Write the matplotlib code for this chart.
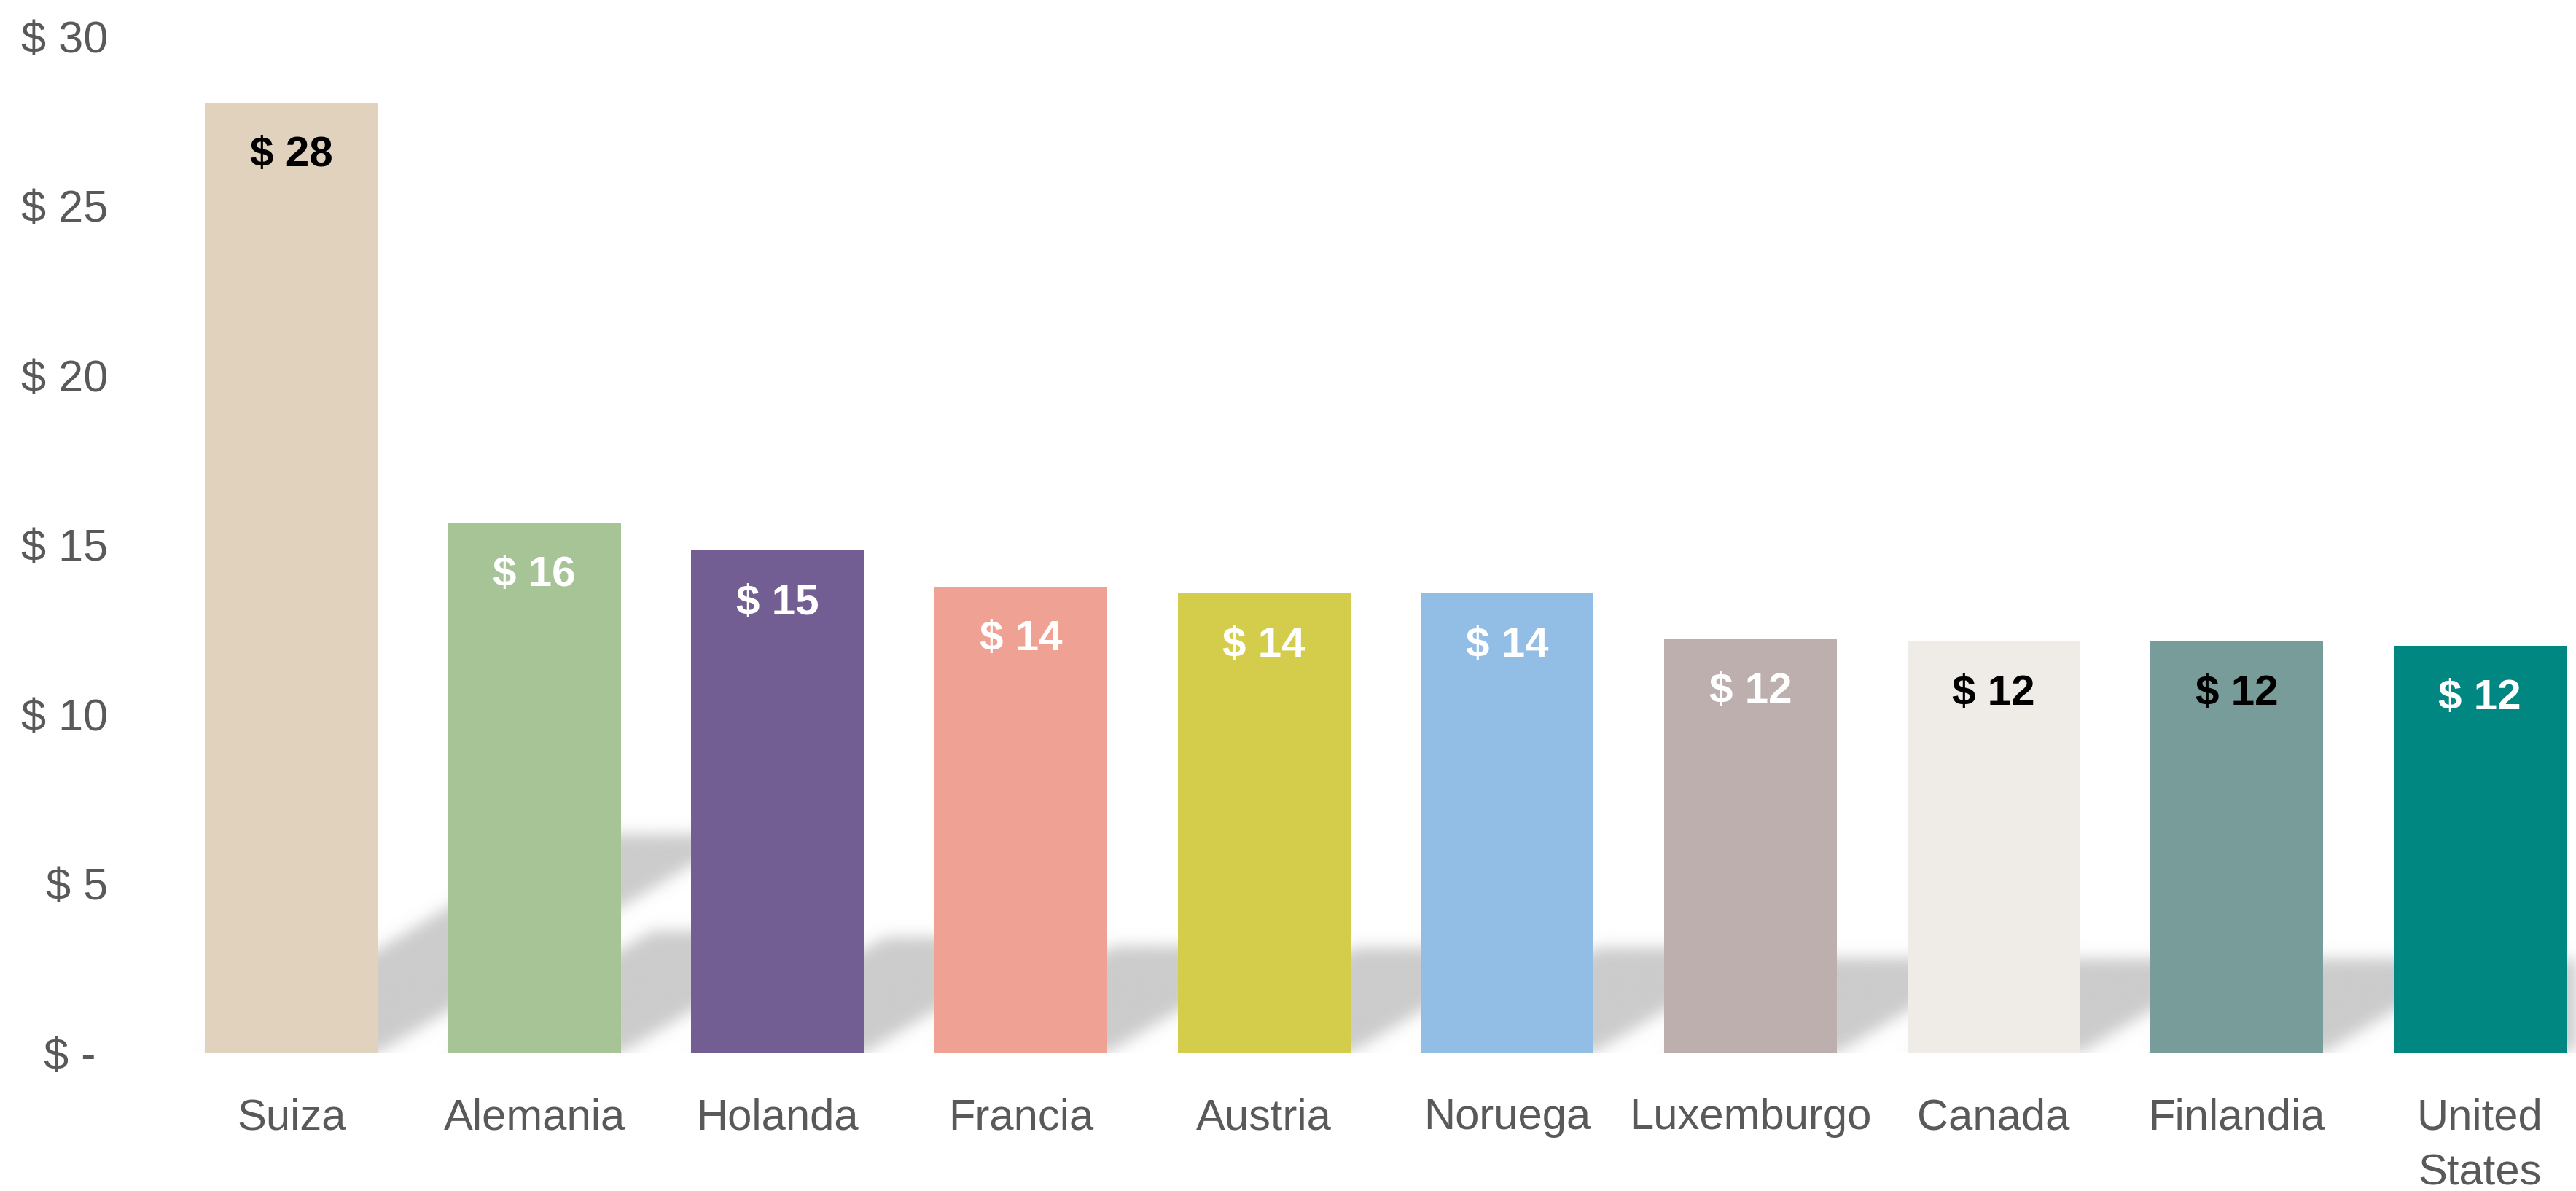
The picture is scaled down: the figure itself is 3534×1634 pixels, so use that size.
import numpy as np
import matplotlib
matplotlib.use("Agg")
import matplotlib.pyplot as plt

# datos: costo por pais (USD)
paises = ["Suiza", "Alemania", "Holanda", "Francia", "Austria", "Noruega",
          "Luxemburgo", "Canada", "Finlandia", "United\nStates"]
valores = [28.05, 15.65, 14.83, 13.76, 13.57, 13.57, 12.21, 12.16, 12.16, 12.02]
colores = ["#E0D2BC", "#A7C497", "#735E94", "#EFA193", "#D4CD4B", "#92BEE6",
           "#BDAFAE", "#EFEBE7", "#789C9A", "#008782"]
color_etiqueta = ["black", "white", "white", "white", "white", "white",
                  "white", "black", "black", "white"]
yticks = [0, 5, 10, 15, 20, 25, 30]
ytick_labels = ["$ - ", "$ 5", "$ 10", "$ 15", "$ 20", "$ 25", "$ 30"]

ancho = 0.71
xmin, xmax = -0.5, 9.395

fig = plt.figure(figsize=(35.34, 16.34), dpi=100)
ax = fig.add_axes([0.0659, 0.1157, 1 - 0.0659, 0.8537])

# sombra en perspectiva (diagonal arriba derecha), hecha como imagen difuminada
px_x = 333.6   # pixeles por categoria
px_y = 46.5    # pixeles por unidad de y
y0, y1 = -1.0, 8.5
nx = int((xmax - xmin) * px_x)
ny = int((y1 - y0) * px_y)
xs = np.linspace(xmin, xmax, nx)
ys = np.linspace(y0, y1, ny)
X, Y = np.meshgrid(xs, ys)
corte = (px_y / 0.6) / px_x
mask = np.zeros_like(X)
for i, v in enumerate(valores):
    h = 0.23 * v
    desp = Y * corte
    dentro = (Y >= 0) & (Y <= h) & (X >= i - ancho / 2 + desp) & (X <= i + ancho / 2 + desp)
    mask[dentro] = 1.0

sigma = 10.0
k = np.arange(-int(3 * sigma), int(3 * sigma) + 1)
kern = np.exp(-k ** 2 / (2 * sigma ** 2))
kern /= kern.sum()
mask = np.apply_along_axis(lambda r: np.convolve(r, kern, mode="same"), 1, mask)
mask = np.apply_along_axis(lambda c: np.convolve(c, kern, mode="same"), 0, mask)

rgba = np.zeros((ny, nx, 4))
rgba[..., :3] = 0.8
rgba[..., 3] = np.clip(mask, 0, 1)
ax.imshow(rgba, extent=(xmin, xmax, y0, y1), origin="lower", aspect="auto",
          interpolation="bilinear", zorder=1)
ax.set_xlim(xmin, xmax)
ax.set_ylim(0, 30)

x = np.arange(len(paises))
ax.bar(x, valores, width=ancho, color=colores, zorder=2)

for i, v in enumerate(valores):
    ax.annotate(f"$ {round(v)}", (i, v), xytext=(0, -52), textcoords="offset points",
                ha="center", va="center", fontsize=42, fontweight="bold",
                color=color_etiqueta[i], family=["Liberation Sans", "DejaVu Sans"])

ax.set_yticks(yticks)
ax.set_yticklabels(ytick_labels, fontsize=44, color="#595959",
                   family=["Liberation Sans", "DejaVu Sans"])
ax.set_xticks(x)
ax.set_xticklabels(paises, fontsize=43, color="#595959", linespacing=1.5,
                   family=["Liberation Sans", "DejaVu Sans"])
ax.tick_params(axis="y", length=0, pad=61)
ax.tick_params(axis="x", length=0, pad=44)
for s in ax.spines.values():
    s.set_visible(False)
ax.patch.set_visible(False)

fig.savefig("out.png", dpi=100)
